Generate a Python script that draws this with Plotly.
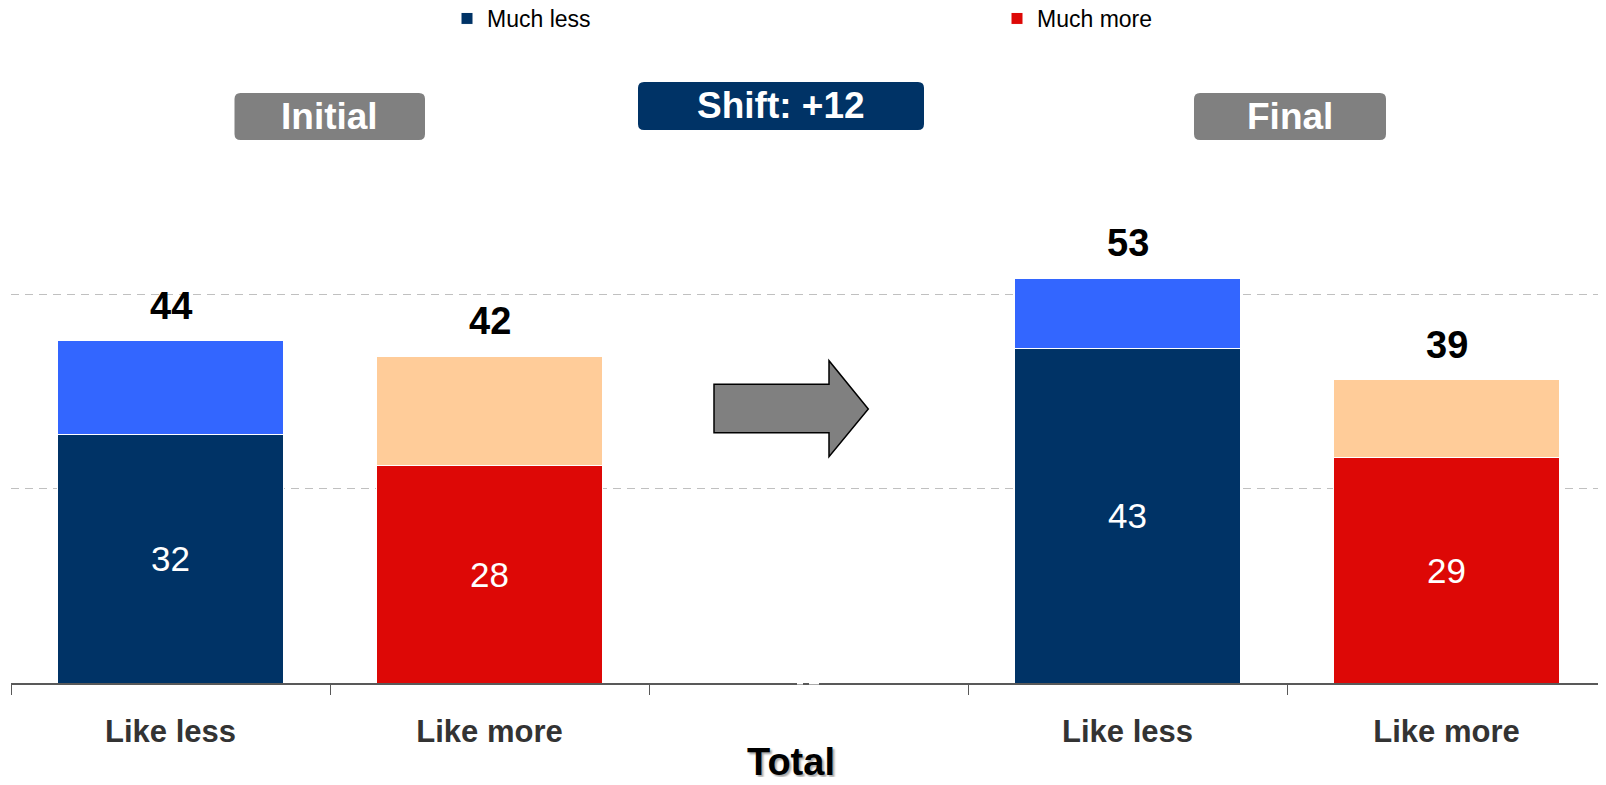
import plotly.graph_objects as go

# ---------------- data ----------------
slots = ["initial_less", "initial_more", "gap", "final_less", "final_more"]
tick_labels = ["Like less", "Like more", "", "Like less", "Like more"]

less_slots = ["initial_less", "final_less"]
more_slots = ["initial_more", "final_more"]

much_less = [32, 43]
less_rest = [12, 9]
much_more = [28, 29]
more_rest = [14, 10]

total_slots = ["initial_less", "initial_more", "final_less", "final_more"]
total_labels = [44, 42, 53, 39]
total_tops = [much_less[0] + less_rest[0], much_more[0] + more_rest[0],
              much_less[1] + less_rest[1], much_more[1] + more_rest[1]]

# ---------------- styling ----------------
NAVY = "#003366"
LBLUE = "#3366FF"
RED = "#DD0806"
PEACH = "#FFCC99"
GRAY = "#808080"
FONT = "Liberation Sans, Arial, sans-serif"

OFF = 8            # page body margin
W, H = 1598, 769
L, R = 3, 0
BASE = 675         # baseline in figure pixels
T = 92
B = H - BASE
PW = W - L - R
PH = BASE - T


def px_x(px):
    return (px - OFF - L) / PW


def px_y(py):
    return (BASE - (py - OFF)) / PH


def rounded_rect(x0, y0, x1, y1, r):
    rx, ry = r / PW, r / PH
    X0, X1 = px_x(x0), px_x(x1)
    Yt, Yb = px_y(y0), px_y(y1)
    return (f"M {X0+rx},{Yt} L {X1-rx},{Yt} Q {X1},{Yt} {X1},{Yt-ry} "
            f"L {X1},{Yb+ry} Q {X1},{Yb} {X1-rx},{Yb} "
            f"L {X0+rx},{Yb} Q {X0},{Yb} {X0},{Yb+ry} "
            f"L {X0},{Yt-ry} Q {X0},{Yt} {X0+rx},{Yt} Z")


fig = go.Figure()

inner_font = dict(family=FONT, size=35, color="white")
line = dict(color="white", width=1)

fig.add_trace(go.Bar(x=less_slots, y=much_less, name="Much less", marker=dict(color=NAVY, line=line),
                     text=much_less, textposition="inside", insidetextanchor="middle",
                     textangle=0, textfont=inner_font))
fig.add_trace(go.Bar(x=less_slots, y=less_rest, name="Less", marker=dict(color=LBLUE, line=line),
                     showlegend=False))
fig.add_trace(go.Bar(x=more_slots, y=much_more, name="Much more", marker=dict(color=RED, line=line),
                     text=much_more, textposition="inside", insidetextanchor="middle",
                     textangle=0, textfont=inner_font))
fig.add_trace(go.Bar(x=more_slots, y=more_rest, name="More", marker=dict(color=PEACH, line=line),
                     showlegend=False))

annotations = []
for s, lab, top in zip(total_slots, total_labels, total_tops):
    annotations.append(dict(x=s, y=top, xref="x", yref="y", text=f"<b>{lab}</b>",
                            showarrow=False, yanchor="middle", yshift=35,
                            font=dict(family=FONT, size=38, color="black")))

# header boxes (page pixel coords)
boxes = [
    ("Initial", 234.5, 93, 425, 140, GRAY),
    ("Final", 1194, 93, 1386, 140, GRAY),
    ("Shift: +12", 638, 82, 924, 130, NAVY),
]
shapes = []
for text, x0, y0, x1, y1, col in boxes:
    shapes.append(dict(type="path", xref="paper", yref="paper", path=rounded_rect(x0, y0, x1, y1, 6),
                       fillcolor=col, line=dict(width=0), layer="above"))
    annotations.append(dict(x=px_x((x0 + x1) / 2), y=px_y((y0 + y1) / 2), xref="paper", yref="paper",
                            text=f"<b>{text}</b>", showarrow=False, xanchor="center", yanchor="middle",
                            font=dict(family=FONT, size=37, color="white")))

# arrow
pts = [(714, 384.3), (829, 384.3), (829, 360.7), (868.3, 409), (829, 456.7), (829, 432.7), (714, 432.7)]
path = "M " + " L ".join(f"{px_x(a)},{px_y(b)}" for a, b in pts) + " Z"
shapes.append(dict(type="path", xref="paper", yref="paper", path=path, fillcolor=GRAY,
                   line=dict(color="black", width=1.5), layer="above"))

# axis break marks
for a, b in [(797, 803), (809, 819)]:
    shapes.append(dict(type="line", xref="paper", yref="paper", x0=px_x(a), x1=px_x(b), y0=0, y1=0,
                       line=dict(color="white", width=3), layer="above"))

# Total title
annotations.append(dict(x=px_x(791), y=px_y(762), xref="paper", yref="paper", text="<b>Total</b>",
                        showarrow=False, xanchor="center", yanchor="middle",
                        font=dict(family=FONT, size=38, color="black",
                                  shadow="2px 2px 2px rgba(0,0,0,0.35)")))

fig.update_layout(
    width=W, height=H, autosize=False,
    margin=dict(l=L, r=R, t=T, b=B, pad=0, autoexpand=False),
    barmode="stack", bargap=0.29,
    paper_bgcolor="white", plot_bgcolor="white",
    font=dict(family=FONT),
    showlegend=True,
    legend=dict(orientation="h", x=px_x(447), xanchor="left", y=px_y(-3), yanchor="top",
                font=dict(family=FONT, size=23, color="black"), itemwidth=30,
                entrywidth=505, entrywidthmode="pixels", traceorder="normal",
                bgcolor="rgba(0,0,0,0)"),
    xaxis=dict(type="category", categoryorder="array", categoryarray=slots,
               tickmode="array", tickvals=slots, ticktext=tick_labels, tickson="boundaries",
               range=[-0.5, 4.5], showline=True, linecolor="#595959", linewidth=1.5,
               ticks="outside", ticklen=10, tickcolor="#595959", tickwidth=1.2,
               showgrid=False, zeroline=False, ticklabelstandoff=20,
               tickfont=dict(family=FONT, size=31, color="#333333", weight="bold")),
    yaxis=dict(range=[0, PH / 7.78], tickvals=[25, 50], showticklabels=False,
               showgrid=True, gridcolor="#c0c0c0", griddash="8px,6px", gridwidth=1,
               zeroline=False, showline=False, ticks=""),
    annotations=annotations,
    shapes=shapes,
    hovermode=False,
)

fig.write_html("out.html")
